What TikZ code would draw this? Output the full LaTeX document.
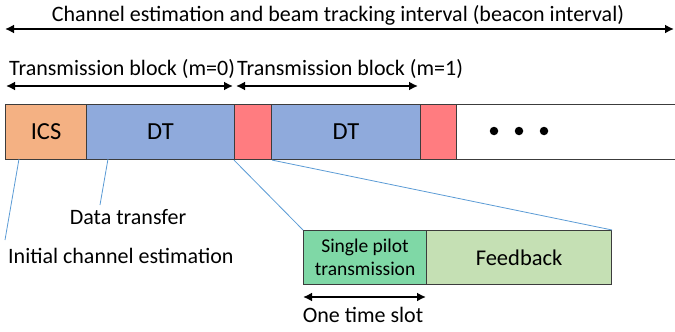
\documentclass[tikz,border=0pt]{standalone}
\usepackage{fontspec}
\setmainfont{Carlito}
\usetikzlibrary{arrows.meta}
\definecolor{icsc}{HTML}{F4B183}
\definecolor{dtc}{HTML}{8FAADC}
\definecolor{redc}{HTML}{FF7C80}
\definecolor{pilotc}{HTML}{7FD8A6}
\definecolor{fbc}{HTML}{C5E0B4}
\definecolor{linkc}{HTML}{5B9BD5}
\definecolor{edgec}{HTML}{3C3C3C}
\begin{document}
\begin{tikzpicture}[x=1pt,y=-1pt,
  seg/.style={draw=edgec, line width=1.1pt, anchor=north west, inner sep=0pt, minimum height=55, font=\fontsize{24.5}{28}\selectfont},
  lbl/.style={inner sep=0pt, font=\fontsize{22}{26}\selectfont},
  dim/.style={line width=2.4pt, {Latex[length=9pt,width=9pt]}-{Latex[length=9pt,width=9pt]}},
  link/.style={draw=linkc, line width=0.8pt},
  dot/.style={circle, fill=black, inner sep=0pt, minimum size=8.5}]
\useasboundingbox (0,0) rectangle (675,332);
% top interval
\node[lbl] (toplbl) at (338,15) {Channel estimation and beam tracking interval (beacon interval)};
\coordinate (tl) at (5,29);
\coordinate (tr) at (674,29);
\draw[dim] (tl) -- (tr);
% transmission blocks
\node[lbl, anchor=west] (tb0) at (9,69) {Transmission block (m=0)};
\node[lbl, anchor=west] (tb1) at (237,69) {Transmission block (m=1)};
\coordinate (b0l) at (6,86);
\coordinate (b0r) at (233,86);
\coordinate (b1l) at (236,86);
\coordinate (b1r) at (418,86);
\draw[dim] (b0l) -- (b0r);
\draw[dim] (b1l) -- (b1r);
% bar
\node[seg, fill=white, minimum width=230] (rest) at (456,104) {};
\node[seg, fill=icsc, minimum width=81] (ics) at (5,104) {ICS};
\node[seg, fill=dtc, minimum width=148] (dt1) at (86,104) {DT};
\node[seg, fill=redc, minimum width=37] (r1) at (234,104) {};
\node[seg, fill=dtc, minimum width=149] (dt2) at (271,104) {DT};
\node[seg, fill=redc, minimum width=36] (r2) at (420,104) {};
\node[dot] (d1) at (494,131) {};
\node[dot] (d2) at (519,131) {};
\node[dot] (d3) at (544,131) {};
% zoom boxes
\node[seg, fill=pilotc, minimum width=123, minimum height=54, align=center, font=\fontsize{19.5}{23}\selectfont] (pilot) at (303,230) {Single pilot\\transmission};
\node[seg, fill=fbc, minimum width=185, minimum height=54, font=\fontsize{22.5}{26}\selectfont] (fb) at (426,230) {Feedback};
% labels
\node[lbl] (dtlbl) at (128,217) {Data transfer};
\node[lbl, anchor=west] (icelbl) at (8,256) {Initial channel estimation};
\coordinate (icsend) at (5,240);
\coordinate (dtend) at (100,205);
\coordinate (icsstart) at (19,159);
\coordinate (dtstart) at (108,159);
\draw[link] (icsstart) -- (icsend);
\draw[link] (dtstart) -- (dtend);
\draw[link] (r1.south west) -- (pilot.north west);
\draw[link] (r1.south east) -- (fb.north east);
% one time slot
\coordinate (sl) at (303,297);
\coordinate (sr) at (426,297);
\draw[dim] (sl) -- (sr);
\node[lbl] (slot) at (363,315) {One time slot};
\end{tikzpicture}
\end{document}
